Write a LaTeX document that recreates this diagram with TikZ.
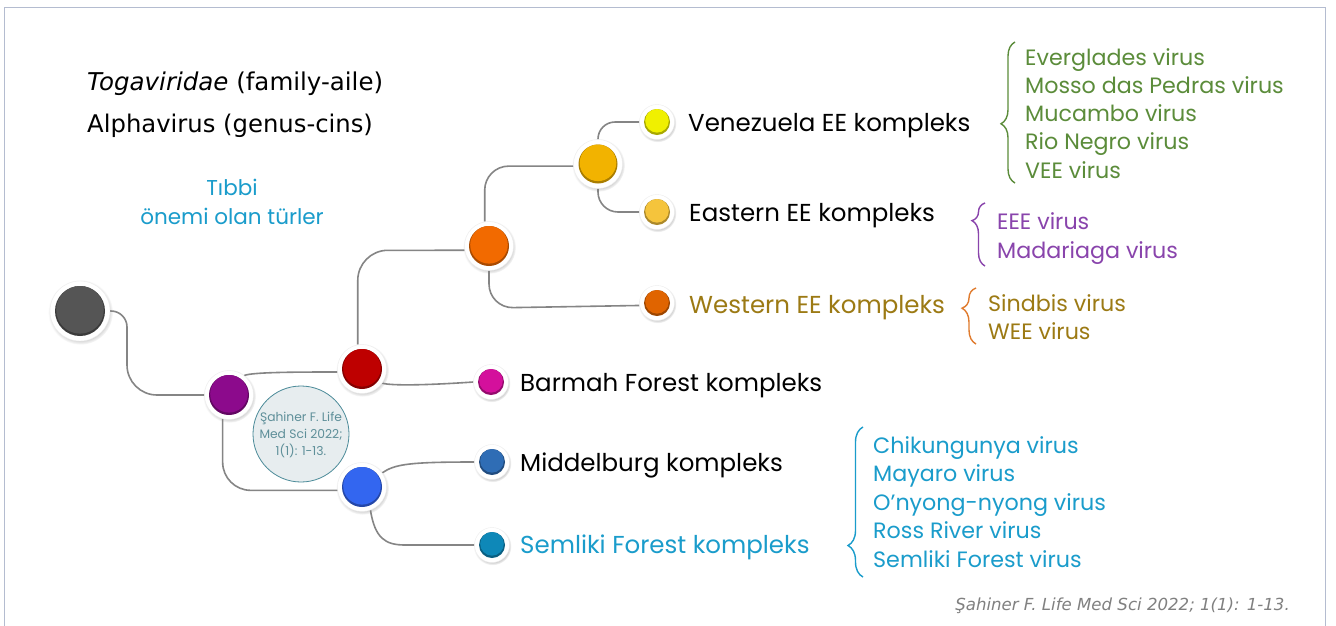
\documentclass[tikz,border=0pt]{standalone}
\usepackage{fontspec}
\newfontfamily\dvsans{DejaVu Sans}
\newfontfamily\cgfont{Poppins}
\usetikzlibrary{shadows,backgrounds,calc,decorations.pathreplacing}
\definecolor{framec}{HTML}{B4BCD0}
\definecolor{connc}{HTML}{858585}
\definecolor{rootc}{HTML}{555555}
\definecolor{purplec}{HTML}{8C0A8C}
\definecolor{redc}{HTML}{BE0000}
\definecolor{bluec}{HTML}{3366F0}
\definecolor{orangec}{HTML}{F26A00}
\definecolor{goldc}{HTML}{F2B300}
\definecolor{yellowc}{HTML}{F0F000}
\definecolor{lgoldc}{HTML}{F5C43C}
\definecolor{dorangec}{HTML}{E06400}
\definecolor{magc}{HTML}{D4109C}
\definecolor{mbluec}{HTML}{2F6DB5}
\definecolor{tealc}{HTML}{0E88B8}
\definecolor{greenc}{HTML}{5B8C3A}
\definecolor{violc}{HTML}{8944AC}
\definecolor{olivec}{HTML}{9C7A14}
\definecolor{bracec}{HTML}{E07B2E}
\definecolor{bluet}{HTML}{1A9CCB}
\definecolor{citc}{HTML}{5E8F99}
\definecolor{citdraw}{HTML}{4A8A98}
\definecolor{citfill}{HTML}{E7EDEF}
\tikzset{
  conn/.style={draw=connc, line width=1.6pt},
  ring/.style={circle, fill=white, draw=black!7, line width=0.4pt, inner sep=0pt,
    circular drop shadow={shadow scale=1.08, shadow xshift=0.5pt, shadow yshift=-1.2pt, opacity=0.35}},
  lab/.style={anchor=base west, inner sep=0pt, font=\cgfont\fontsize{24.5}{28}\selectfont},
  sp/.style={anchor=base west, inner sep=0pt, font=\cgfont\fontsize{22.2}{26}\selectfont},
}
\newcommand\mkball[6]{%
  \node[ring, minimum size=#5pt] (#1) at (#2,#3) {};
  \fill[#6!70!black] (#2,#3) circle[radius=#4pt];
  \fill[#6] (#2,#3-1.2) circle[radius=#4pt-1.2pt];
}
\begin{document}
\begin{tikzpicture}[x=1pt,y=-1pt]
\useasboundingbox (0,0) rectangle (1336,625);
% balls
\mkball{root}{80}{311}{25}{60}{rootc}
\mkball{purple}{229}{395}{20}{49}{purplec}
\mkball{red}{362}{369}{20}{49}{redc}
\mkball{blue}{362}{487}{20}{49}{bluec}
\mkball{orange}{489}{246}{20}{49}{orangec}
\mkball{gold}{598}{164}{19.5}{49}{goldc}
\mkball{yellow}{657}{122}{13}{35}{yellowc}
\mkball{lgold}{657}{212}{13}{35}{lgoldc}
\mkball{western}{657}{303}{13}{35}{dorangec}
\mkball{barmah}{491}{382}{13}{35}{magc}
\mkball{middel}{492}{462}{13}{35}{mbluec}
\mkball{semliki}{492}{545}{13}{35}{tealc}
% citation circle
\node[circle, draw=citdraw, fill=citfill, line width=0.8pt, minimum size=96pt, inner sep=0pt] (cit) at (301,434) {};
\node[align=center, inner sep=0pt, text=citc, font=\cgfont\fontsize{12.3}{16.7}\selectfont] (cittext) at ([yshift=-1pt]cit.center)
  {Şahiner F. Life\\Med Sci 2022;\\1(1): 1-13.};
% connectors
\begin{scope}[on background layer]
\fill[white] (0,0) rectangle (1336,625);
\draw[framec, line width=1.5pt] (4.5,640) -- (4.5,7.5) -- (1325.5,7.5) -- (1325.5,640);
\draw[conn] (root.east) [rounded corners=16pt] -- (127,311) [rounded corners=30pt] -- (127,395) -- (purple.west);
\draw[conn] (purple.52) .. controls (252,372) and (300,372) .. (red.187);
\draw[conn, rounded corners=28pt] (purple.255) -- (222.7,490.3) -- (blue.188);
\draw[conn] (red.-35) .. controls (392,386) and (430,385) .. (barmah.west);
\draw[conn, rounded corners=30pt] (red.100) -- (357.8,250.3) -- (orange.190);
\draw[conn, rounded corners=24pt] (orange.100) -- (484.7,166.1) -- (gold.185);
\draw[conn, rounded corners=24pt] (orange.south) -- (489,308) -- (western.188);
\draw[conn, rounded corners=17pt] (gold.north) -- (598,122) -- (yellow.west);
\draw[conn, rounded corners=20pt] (gold.south) -- (598,212) -- (lgold.west);
\draw[conn] (blue.35) .. controls (395,464) and (410,462) .. (middel.west);
\draw[conn] (blue.290) .. controls (375,538) and (385,545) .. (405,545) -- (semliki.west);
\end{scope}
% top-left texts
\node[anchor=base west, inner sep=0pt, font=\dvsans\fontsize{24.5}{28}\selectfont] (fam) at (87,90.5) {\textit{Togaviridae} (family-aile)};
\node[anchor=base west, inner sep=0pt, font=\dvsans\fontsize{24.3}{28}\selectfont] (gen) at (87,132.5) {Alphavirus (genus-cins)};
\node[anchor=base, inner sep=0pt, font=\cgfont\fontsize{21.5}{28}\selectfont, text=bluet] (t1) at (232,195.5) {Tıbbi};
\node[anchor=base, inner sep=0pt, font=\cgfont\fontsize{21.5}{28}\selectfont, text=bluet] (t2) at (232,224.5) {önemi olan türler};
% complex labels
\node[lab] (ven) at (688,131.6) {Venezuela EE kompleks};
\node[lab] (eas) at (689,221.6) {Eastern EE kompleks};
\node[lab, text=olivec] (wes) at (689,313.6) {Western EE kompleks};
\node[lab] (bar) at (520,391.6) {Barmah Forest kompleks};
\node[lab] (mid) at (520,471.6) {Middelburg kompleks};
\node[lab, text=bluet] (sem) at (520,553.6) {Semliki Forest kompleks};
% species lists
\foreach \t [count=\i] in {Everglades virus, Mosso das Pedras virus, Mucambo virus, Rio Negro virus, VEE virus}
  \node[sp, text=greenc] (g\i) at (1025,{65+28.3*(\i-1)}) {\t};
\node[sp, text=violc] (p1) at (997,229) {EEE virus};
\node[sp, text=violc] (p2) at (997,258) {Madariaga virus};
\node[sp, text=olivec] (o1) at (988,311) {Sindbis virus};
\node[sp, text=olivec] (o2) at (988,339) {WEE virus};
\foreach \t [count=\i] in {Chikungunya virus, Mayaro virus, O’nyong-nyong virus, Ross River virus, Semliki Forest virus}
  \node[sp, text=bluet] (b\i) at (873,{453+28.5*(\i-1)}) {\t};
% braces
\draw[greenc, line width=1.4pt, decorate, decoration={brace, amplitude=14pt, aspect=0.42}] (1015,183) -- (1015,42);
\draw[violc, line width=1.4pt, decorate, decoration={brace, amplitude=13pt, aspect=0.72}] (985,266) -- (985,203);
\draw[bracec, line width=1.4pt, decorate, decoration={brace, amplitude=14pt, aspect=0.64}] (976,344) -- (976,288);
\draw[bluet, line width=1.4pt, decorate, decoration={brace, amplitude=15pt, aspect=0.21}] (863,577) -- (863,427);
% footer citation
\node[anchor=base east, inner sep=0pt, text=black!50, font=\dvsans\itshape\fontsize{16.6}{20}\selectfont] (foot) at (1290,610) {Şahiner F. Life Med Sci 2022; 1(1): 1-13.};
\end{tikzpicture}
\end{document}
